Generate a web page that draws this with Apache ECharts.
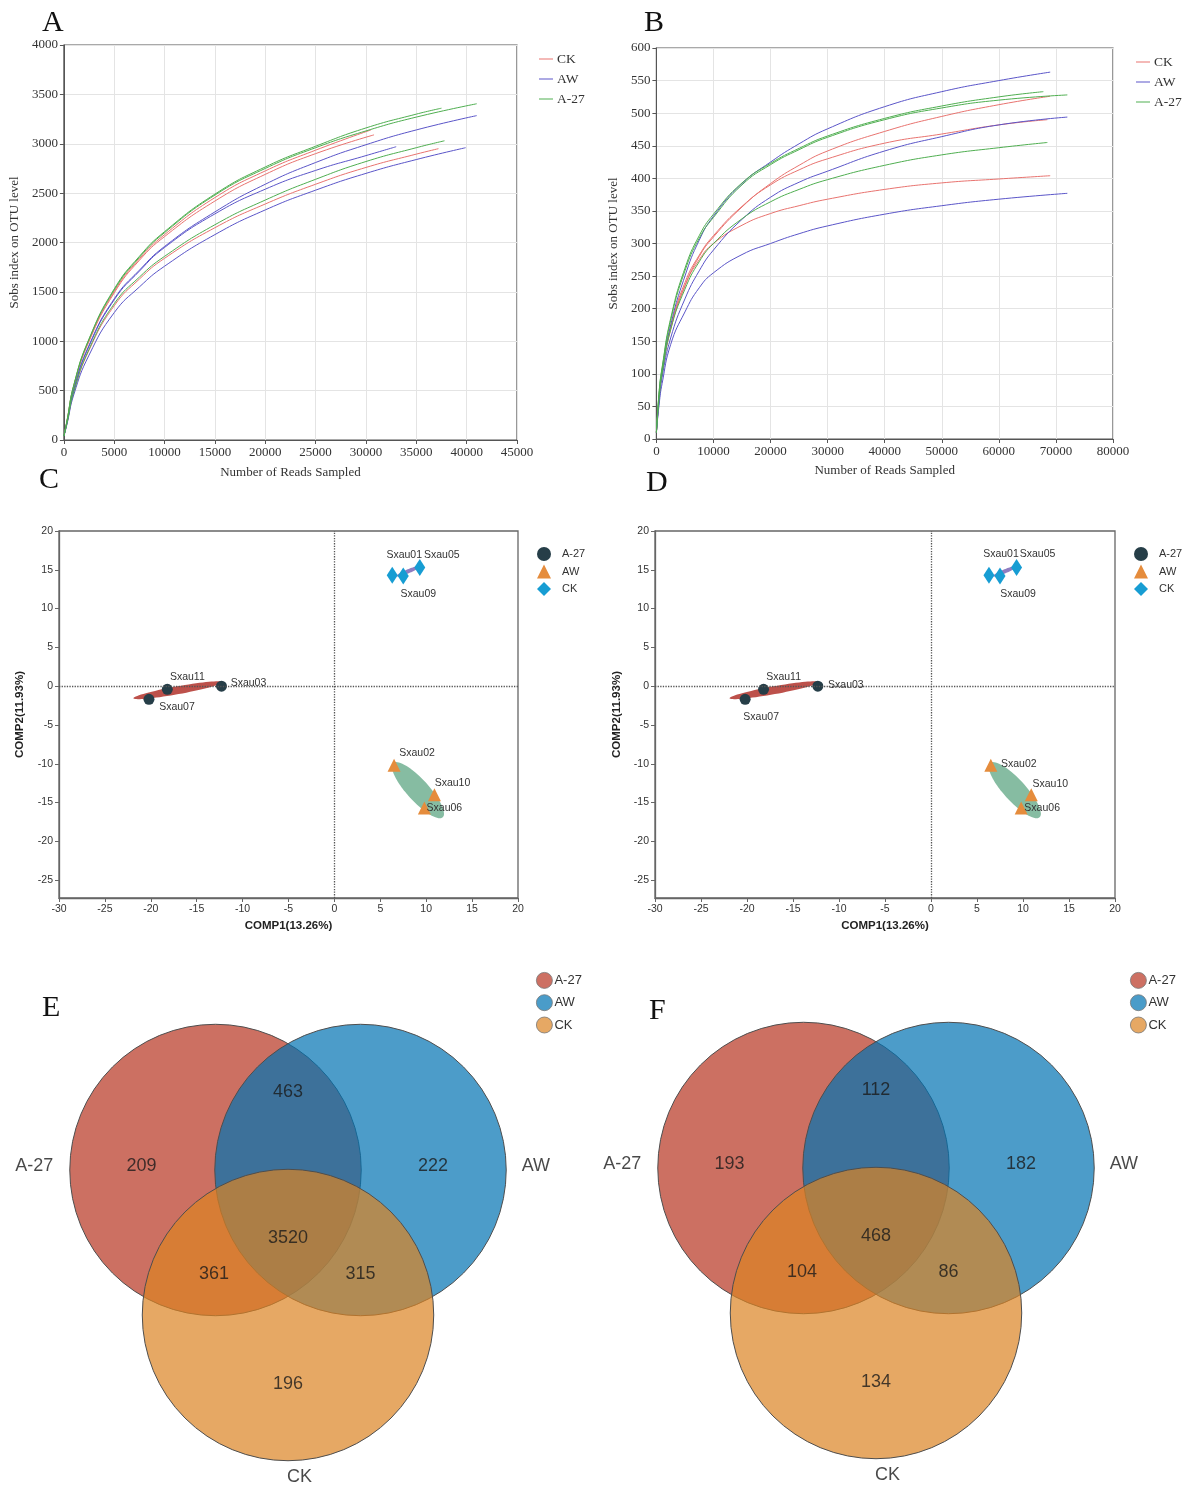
<!DOCTYPE html>
<html>
<head>
<meta charset="utf-8">
<script src="https://cdn.jsdelivr.net/npm/echarts@6.0.0/dist/echarts.min.js"></script>
<style>
  body { margin: 0; background: #fff; }
  #wrap { position: relative; width: 1198px; height: 1489px; }
  .p { position: absolute; }
</style>
</head>
<body>
<div id="wrap">
  <div id="pA" class="p" style="left:0;top:0;width:599px;height:490px"></div>
  <div id="pB" class="p" style="left:599px;top:0;width:599px;height:490px"></div>
  <div id="pC" class="p" style="left:0;top:455px;width:599px;height:495px"></div>
  <div id="pD" class="p" style="left:599px;top:455px;width:599px;height:495px"></div>
  <div id="pE" class="p" style="left:0;top:950px;width:599px;height:539px"></div>
  <div id="pF" class="p" style="left:599px;top:950px;width:599px;height:539px"></div>
</div>
<script>
// ---- rarefaction A (OTU, reads vs sobs) ----
const aCK1 = [[0,40],[300,185],[1000,550],[2500,1000],[5000,1490],[7500,1820],[10000,2060],[15000,2420],[20000,2690],[25000,2900],[30800,3090]];
const aCK2 = [[0,40],[300,165],[1000,490],[2500,910],[5000,1360],[7500,1630],[10000,1840],[15000,2150],[20000,2390],[25000,2590],[30000,2760],[35000,2895],[37200,2950]];
const aCK3 = [[0,40],[300,188],[1000,555],[2500,1010],[5000,1505],[7500,1835],[10000,2080],[15000,2455],[20000,2725],[25000,2935],[30500,3140]];
const aAW1 = [[0,40],[300,175],[1000,520],[2500,960],[5000,1430],[7500,1720],[10000,1960],[15000,2310],[20000,2590],[25000,2810],[30000,2990],[35000,3140],[41000,3285]];
const aAW2 = [[0,40],[300,172],[1000,515],[2500,950],[5000,1420],[7500,1710],[10000,1950],[15000,2290],[20000,2540],[25000,2730],[30000,2880],[33000,2970]];
const aAW3 = [[0,40],[300,158],[1000,465],[2500,860],[5000,1290],[7500,1550],[10000,1760],[15000,2080],[20000,2330],[25000,2530],[30000,2700],[35000,2840],[39900,2960]];
const aA27_1 = [[0,40],[300,190],[1000,560],[2500,1020],[5000,1520],[7500,1850],[10000,2100],[15000,2480],[20000,2750],[25000,2960],[30000,3130],[35000,3270],[41000,3405]];
const aA27_2 = [[0,40],[300,192],[1000,565],[2500,1025],[5000,1530],[7500,1860],[10000,2110],[15000,2490],[20000,2765],[25000,2975],[30000,3160],[35000,3300],[37500,3360]];
const aA27_3 = [[0,40],[300,168],[1000,495],[2500,920],[5000,1380],[7500,1650],[10000,1860],[15000,2180],[20000,2430],[25000,2640],[30000,2820],[35000,2960],[37800,3030]];

// ---- rarefaction B ----
const bCK1 = [[0,10],[500,65],[1000,100],[2500,170],[5000,235],[7500,280],[10000,310],[15000,356],[20000,392],[25000,420],[30000,442],[40000,472],[50000,495],[60000,513],[69000,526]];
const bCK2 = [[0,10],[500,66],[1000,102],[2500,172],[5000,240],[7500,282],[10000,312],[15000,357],[20000,390],[25000,413],[30000,430],[40000,454],[50000,468],[60000,482],[68500,490]];
const bCK3 = [[0,10],[500,64],[1000,100],[2500,168],[5000,235],[7500,275],[10000,300],[15000,328],[20000,346],[25000,358],[30000,368],[40000,383],[50000,393],[60000,399],[69000,404]];
const bAW1 = [[0,10],[500,70],[1000,105],[2500,175],[5000,250],[7500,305],[10000,342],[15000,392],[20000,425],[25000,453],[30000,476],[40000,510],[50000,533],[60000,550],[69000,563]];
const bAW2 = [[0,10],[500,60],[1000,95],[2500,155],[5000,215],[7500,258],[10000,290],[15000,337],[20000,371],[25000,394],[30000,411],[40000,442],[50000,464],[60000,482],[72000,494]];
const bAW3 = [[0,10],[500,55],[1000,85],[2500,145],[5000,195],[7500,232],[10000,255],[15000,283],[20000,300],[25000,315],[30000,327],[40000,345],[50000,358],[60000,368],[72000,377]];
const bA27_1 = [[0,10],[500,75],[1000,110],[2500,185],[5000,262],[7500,312],[10000,345],[15000,393],[20000,423],[25000,446],[30000,465],[40000,492],[50000,511],[60000,525],[67800,533]];
const bA27_2 = [[0,10],[500,74],[1000,108],[2500,182],[5000,258],[7500,308],[10000,340],[15000,390],[20000,421],[25000,444],[30000,463],[40000,490],[50000,508],[60000,520],[72000,528]];
const bA27_3 = [[0,10],[500,65],[1000,100],[2500,168],[5000,230],[7500,272],[10000,300],[15000,338],[20000,364],[25000,383],[30000,398],[40000,420],[50000,436],[60000,447],[68500,455]];

// ---- PLS-DA scores [COMP1, COMP2, sample] ----
const plsA27 = [[-18.2,-0.4,'Sxau11'],[-12.3,0.0,'Sxau03'],[-20.2,-1.7,'Sxau07']];
const plsAW = [[6.5,-10.2,'Sxau02'],[10.9,-14.0,'Sxau10'],[9.8,-15.7,'Sxau06']];
const plsCK = [[6.3,14.3,'Sxau01'],[7.5,14.2,'Sxau09'],[9.3,15.3,'Sxau05']];
// ellipse: centre x,y, semi-axis u (x,y), semi-axis v (x,y)
const ellA27 = [-17.05,-0.52,4.85,1.04,0.08,-0.5];
const ellAW = [9.1,-13.4,2.7,-3.5,0.88,0.94];
const ellCK = [8.06,14.82,1.31,0.64,0.084,-0.24];
const plsTicks = [-25,-20,-15,-10,-5,0,5,10,15,20];

// ---- Venn counts: A-27 only, AW only, CK only, A-27&AW, A-27&CK, AW&CK, all ----
const vennSets = ['A-27','AW','CK'];
const vennE = [209,222,196,463,361,315,3520];
const vennF = [193,182,134,112,104,86,468];

const groups = ['CK','AW','A-27'];
const SERIF = "'Liberation Serif','Times New Roman',serif";
const SANS = "'Liberation Sans',Arial,sans-serif";
const lineColor = { 'CK': '#e8736f', 'AW': '#5a55c8', 'A-27': '#4fae50' };

function tag(text, left, top) {
  return { text: text, left: left, top: top,
    textStyle: { fontFamily: SERIF, fontSize: 30, fontWeight: 'normal', color: '#111' } };
}

function rareOption(o) {
  const axisCommon = {
    type: 'value', nameLocation: 'middle',
    nameTextStyle: { fontFamily: SERIF, fontSize: 13, color: '#333' },
    axisLine: { show: true, onZero: false, lineStyle: { color: '#555' } },
    axisTick: { show: true, length: 4, lineStyle: { color: '#555' } },
    axisLabel: { fontFamily: SERIF, fontSize: 13, color: '#333', margin: 6, formatter: v => String(v) },
    splitLine: { show: true, lineStyle: { color: '#e4e4e4' } }
  };
  return {
    animation: false,
    title: tag(o.tag, o.tagLeft, 3),
    legend: {
      orient: 'vertical', left: o.legLeft, top: o.legTop, itemWidth: 14, itemHeight: 14, itemGap: 6,
      selectedMode: false, icon: 'path://M0,0H14V1H0Z',
      data: groups.map(g => ({ name: g, itemStyle: { color: lineColor[g] } })),
      textStyle: { fontFamily: SERIF, fontSize: 13.5, color: '#333', padding: [0, 0, 0, -1] }
    },
    grid: { left: o.left, top: o.top, width: o.w, height: o.h, show: true, borderColor: '#555', borderWidth: 1.2 },
    xAxis: Object.assign({}, axisCommon, { min: 0, max: o.xMax, interval: o.xStep,
      name: 'Number of Reads Sampled', nameGap: o.xGap }),
    yAxis: Object.assign({}, axisCommon, { min: 0, max: o.yMax, interval: o.yStep,
      name: 'Sobs index on OTU level', nameGap: o.yGap }),
    series: o.curves.map(c => ({
      name: c[0], type: 'line', data: c[1], smooth: 0.5,
      symbol: 'none', showSymbol: false, silent: true,
      lineStyle: { width: 1, color: lineColor[c[0]] }, itemStyle: { color: lineColor[c[0]] }
    }))
  };
}

const plsStyle = {
  'A-27': { symbol: 'circle', size: 11, color: '#263e48' },
  'AW': { symbol: 'triangle', size: 13, color: '#e58c3c' },
  'CK': { symbol: 'diamond', size: [11, 17], color: '#179dd3' }
};
const ellColors = ['#bd514b', '#86bca2', '#8f7dc1'];

function plsOption(o) {
  const axisCommon = {
    type: 'value', nameLocation: 'middle',
    nameTextStyle: { fontFamily: SANS, fontSize: 11.5, fontWeight: 'bold', color: '#222' },
    axisLine: { show: true, onZero: false, lineStyle: { color: '#666', width: 1.3 } },
    axisTick: { show: true, length: 4, lineStyle: { color: '#666' } },
    axisLabel: { fontFamily: SANS, fontSize: 10.5, color: '#333', margin: 6 },
    splitLine: { show: false }
  };
  const sets = [['A-27', plsA27], ['AW', plsAW], ['CK', plsCK]];
  const series = [{
    type: 'custom', silent: true, z: 1,
    data: [ellA27, ellAW, ellCK],
    encode: { x: 0, y: 1 },
    renderItem: (params, api) => {
      const pts = [];
      for (let i = 0; i < 72; i++) {
        const t = i / 72 * Math.PI * 2;
        const c = Math.cos(t), s = Math.sin(t);
        pts.push(api.coord([
          api.value(0) + api.value(2) * c + api.value(4) * s,
          api.value(1) + api.value(3) * c + api.value(5) * s
        ]));
      }
      return { type: 'polygon', shape: { points: pts }, style: { fill: ellColors[params.dataIndex] } };
    },
    markLine: {
      silent: true, symbol: 'none', label: { show: false },
      lineStyle: { type: 'dotted', color: '#555', width: 1.3 },
      data: [{ xAxis: 0 }, { yAxis: 0 }]
    }
  }];
  sets.forEach(s => {
    const st = plsStyle[s[0]];
    series.push({
      name: s[0], type: 'scatter', z: 3, silent: true,
      symbol: st.symbol, symbolSize: st.size, itemStyle: { color: st.color, opacity: 1 },
      data: s[1].map(p => ({
        value: [p[0], p[1]], name: p[2],
        label: { offset: o.offsets[p[2]] }
      })),
      label: { show: true, position: 'inside', formatter: p => p.name,
        fontFamily: SANS, fontSize: 10.5, color: '#333' }
    });
  });
  return {
    animation: false,
    title: tag(o.tag, o.tagLeft, o.tagTop),
    legend: {
      orient: 'vertical', left: o.legLeft, top: 87, itemWidth: 14, itemHeight: 14, itemGap: 3.5,
      selectedMode: false, data: ['A-27', 'AW', 'CK'],
      textStyle: { fontFamily: SANS, fontSize: 11, color: '#333', padding: [0, 0, 0, 6] }
    },
    grid: { left: o.left, top: 76, width: o.w, height: 367, show: true, borderColor: '#666', borderWidth: 1.3 },
    xAxis: Object.assign({}, axisCommon, { min: -30, max: 20, interval: 5,
      name: 'COMP1(13.26%)', nameGap: 22 }),
    yAxis: Object.assign({}, axisCommon, { min: -27.3, max: 20,
      axisLabel: Object.assign({}, axisCommon.axisLabel, { customValues: plsTicks }),
      axisTick: Object.assign({}, axisCommon.axisTick, { customValues: plsTicks }),
      name: 'COMP2(11.93%)', nameGap: o.yGap }),
    series: series
  };
}

// Venn layout (unit = circle radius)
const vennCircles = [[-0.5, 0, 1.005], [0.5, 0, 1.005], [0, -1, 1.005]];
const vennFill = ['rgba(182,51,31,0.7)', 'rgba(0,114,178,0.7)', 'rgba(219,131,34,0.7)'];
const vennLegend = ['#cd7063', '#4a9cc9', '#e6a864'];
const vennRegionPos = [[-1.01, 0.03], [1.0, 0.03], [0, -1.475], [0, 0.54], [-0.51, -0.72], [0.5, -0.72], [0, -0.47]];
const vennNamePos = [[-1.75, 0.03], [1.71, 0.03], [0.08, -2.12]];

function vennOption(o) {
  const series = vennSets.map((name, i) => ({
    name: name, type: 'custom', silent: true, z: 1,
    itemStyle: { color: vennLegend[i] },
    data: [vennCircles[i]], encode: { x: 0, y: 1 },
    renderItem: (params, api) => {
      const c = api.coord([api.value(0), api.value(1)]);
      const r = api.size([api.value(2), 0])[0];
      return { type: 'circle', shape: { cx: c[0], cy: c[1], r: r },
        style: { fill: vennFill[i], stroke: '#4d4d4d', lineWidth: 1 } };
    }
  }));
  series.push({
    type: 'scatter', silent: true, z: 5, symbolSize: 2, itemStyle: { color: 'rgba(0,0,0,0)' },
    data: o.counts.map((v, i) => [vennRegionPos[i][0], vennRegionPos[i][1], v]),
    label: { show: true, position: 'inside', formatter: p => String(p.value[2]),
      fontFamily: SANS, fontSize: 18, color: '#1a1a1a' }
  });
  series.push({
    type: 'scatter', silent: true, z: 5, symbolSize: 2, itemStyle: { color: 'rgba(0,0,0,0)' },
    data: vennSets.map((s, i) => ({ value: vennNamePos[i], name: s })),
    label: { show: true, position: 'inside', formatter: p => p.name,
      fontFamily: SANS, fontSize: 18, color: '#1a1a1a' }
  });
  return {
    animation: false,
    title: tag(o.tag, o.tagLeft, o.tagTop),
    legend: {
      orient: 'vertical', left: o.legLeft, top: 17, icon: 'circle', itemWidth: 16, itemHeight: 16, itemGap: 5.5,
      selectedMode: false,
      data: vennSets.map((s, i) => ({ name: s, itemStyle: { color: vennLegend[i], borderColor: '#777', borderWidth: 0.8 } })),
      textStyle: { fontFamily: SANS, fontSize: 13, color: '#333', padding: [0, 0, 0, -3] }
    },
    grid: { left: o.left, top: o.top, width: 551, height: 507.5 },
    xAxis: { type: 'value', min: -1.9, max: 1.9, show: false },
    yAxis: { type: 'value', min: -2.2, max: 1.3, show: false },
    series: series
  };
}

const offC = { Sxau11: [20, -12], Sxau03: [27, -3], Sxau07: [28, 8], Sxau02: [23, -12], Sxau10: [18, -12],
  Sxau06: [20, 0], Sxau01: [12, -20], Sxau09: [15, 18], Sxau05: [22, -12] };
const offD = { Sxau11: [20, -12], Sxau03: [28, -1], Sxau07: [16, 18], Sxau02: [28, -1], Sxau10: [19, -11],
  Sxau06: [21, 0], Sxau01: [12, -21], Sxau09: [18, 18], Sxau05: [21, -13] };

echarts.init(document.getElementById('pA')).setOption(rareOption({
  tag: 'A', tagLeft: 37, legLeft: 534, legTop: 47,
  left: 63, top: 45, w: 454, h: 395, xMax: 45000, xStep: 5000, yMax: 4000, yStep: 500, xGap: 26, yGap: 41,
  curves: [['CK', aCK1], ['CK', aCK2], ['CK', aCK3], ['AW', aAW1], ['AW', aAW2], ['AW', aAW3],
    ['A-27', aA27_1], ['A-27', aA27_2], ['A-27', aA27_3]]
}));
echarts.init(document.getElementById('pB')).setOption(rareOption({
  tag: 'B', tagLeft: 40, legLeft: 532, legTop: 50,
  left: 56, top: 48, w: 458, h: 391, xMax: 80000, xStep: 10000, yMax: 600, yStep: 50, xGap: 25, yGap: 33,
  curves: [['CK', bCK1], ['CK', bCK2], ['CK', bCK3], ['AW', bAW1], ['AW', bAW2], ['AW', bAW3],
    ['A-27', bA27_1], ['A-27', bA27_2], ['A-27', bA27_3]]
}));
echarts.init(document.getElementById('pC')).setOption(plsOption({
  tag: 'C', tagLeft: 34, tagTop: 5, legLeft: 532, left: 59, w: 459, yGap: 33, offsets: offC
}));
echarts.init(document.getElementById('pD')).setOption(plsOption({
  tag: 'D', tagLeft: 42, tagTop: 8, legLeft: 530, left: 56, w: 460, yGap: 32, offsets: offD
}));
echarts.init(document.getElementById('pE')).setOption(vennOption({
  tag: 'E', tagLeft: 37, tagTop: 38, legLeft: 531, left: 12.5, top: 31.5, counts: vennE
}));
echarts.init(document.getElementById('pF')).setOption(vennOption({
  tag: 'F', tagLeft: 45, tagTop: 41, legLeft: 526, left: 1.5, top: 29.5, counts: vennF
}));
</script>
</body>
</html>
